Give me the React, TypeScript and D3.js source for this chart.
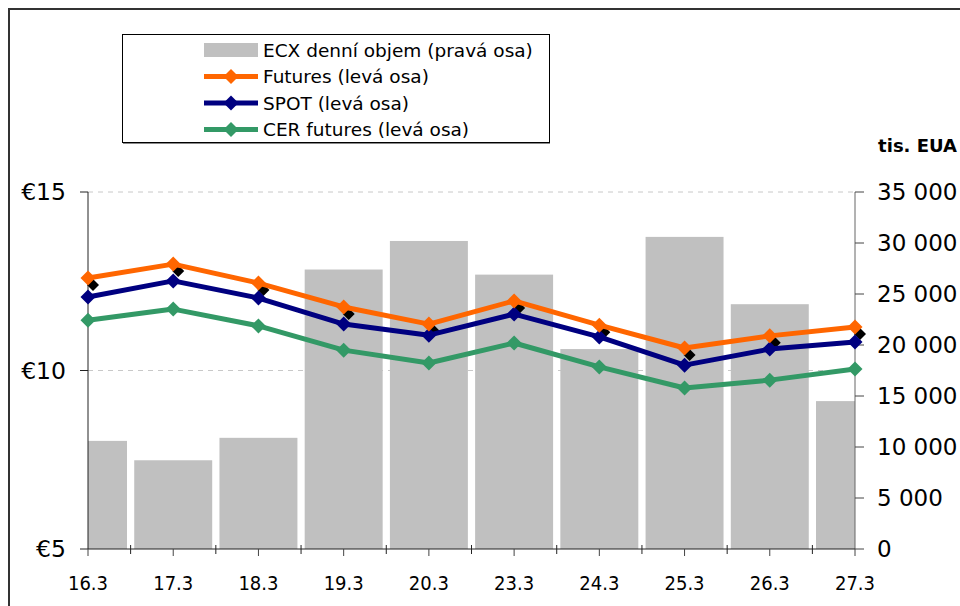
import React from "react";
import * as d3 from "d3";

const categories = ["16.3", "17.3", "18.3", "19.3", "20.3", "23.3", "24.3", "25.3", "26.3", "27.3"];
const volume = [10600, 8700, 10900, 27400, 30200, 26900, 19600, 30600, 24000, 14500];
const futures = [12.59, 12.98, 12.45, 11.78, 11.3, 11.95, 11.27, 10.63, 10.97, 11.22];
const spot = [12.06, 12.51, 12.03, 11.3, 10.99, 11.58, 10.94, 10.15, 10.6, 10.8];
const cer = [11.41, 11.72, 11.25, 10.57, 10.21, 10.77, 10.1, 9.51, 9.73, 10.04];
const leftTicks = [5, 10, 15];
const rightTicks = [0, 5000, 10000, 15000, 20000, 25000, 30000, 35000];

const legendItems = [
  { label: "ECX denní objem (pravá osa)", type: "bar", color: "#c0c0c0" },
  { label: "Futures (levá osa)", type: "line", color: "#ff6600" },
  { label: "SPOT (levá osa)", type: "line", color: "#000080" },
  { label: "CER futures (levá osa)", type: "line", color: "#339966" },
];

const W = 960, H = 606;
const plot = { left: 88, right: 855, top: 192, bottom: 549 };
const FONT = "'DejaVu Sans', Verdana, sans-serif";
const FONT_C = "'DejaVu Sans Condensed', 'DejaVu Sans', sans-serif";

export default function App() {
  const x = d3.scalePoint<string>().domain(categories).range([plot.left, plot.right]);
  const step = x.step();
  const yL = d3.scaleLinear().domain([5, 15]).range([plot.bottom, plot.top]);
  const yR = d3.scaleLinear().domain([0, 35000]).range([plot.bottom, plot.top]);
  const barW = step * 0.915;

  const line = (vals: number[]) =>
    d3.line<number>().x((_, i) => x(categories[i])!).y((v) => yL(v))(vals) || "";

  const diamond = (cx: number, cy: number, r: number) =>
    `M${cx},${cy - r}L${cx + r},${cy}L${cx},${cy + r}L${cx - r},${cy}Z`;

  const series = [
    { vals: cer, color: "#339966" },
    { vals: spot, color: "#000080" },
    { vals: futures, color: "#ff6600" },
  ];

  const midTicks = categories.slice(1).map((c, i) => (x(categories[i])! + x(c)!) / 2);

  return (
    <svg width={W} height={H} style={{ position: "absolute", left: 0, top: 0, background: "#fff" }}
      fontFamily={FONT}>
      <rect x={0} y={0} width={W} height={H} fill="#fff" />
      <rect x={9} y={9} width={1200} height={900} fill="none" stroke="#333" strokeWidth={2} />
      <defs>
        <clipPath id="plotclip">
          <rect x={plot.left} y={0} width={plot.right - plot.left} height={H} />
        </clipPath>
      </defs>
      {/* grid */}
      {leftTicks.filter((t) => t > 5).map((t) => (
        <line key={"g" + t} x1={plot.left} x2={plot.right} y1={yL(t)} y2={yL(t)}
          stroke="#c8c8c8" strokeWidth={1} strokeDasharray="5,5" />
      ))}
      {/* bars */}
      <g clipPath="url(#plotclip)">
        {volume.map((v, i) => (
          <rect key={"b" + i} x={x(categories[i])! - barW / 2} y={yR(v)} width={barW}
            height={plot.bottom - yR(v)} fill="#c0c0c0" />
        ))}
      </g>
      {/* left axis */}
      <line x1={plot.left} x2={plot.left} y1={plot.top} y2={plot.bottom} stroke="#222" strokeWidth={1} />
      {leftTicks.map((t) => (
        <g key={"l" + t}>
          <line x1={plot.left - 8} x2={plot.left} y1={yL(t)} y2={yL(t)} stroke="#222" />
          <text x={66} y={yL(t)} dy="0.36em" textAnchor="end" fontSize={23.5} fill="#000">€{t}</text>
        </g>
      ))}
      {/* right axis */}
      <line x1={plot.right} x2={plot.right} y1={plot.top} y2={plot.bottom} stroke="#666" strokeWidth={1} />
      {rightTicks.map((t) => (
        <g key={"r" + t}>
          <line x1={plot.right} x2={plot.right + 9} y1={yR(t)} y2={yR(t)} stroke="#444" />
          <text x={877} y={yR(t)} dy="0.36em" fontSize={23} fill="#000">
            {t === 0 ? "0" : d3.format(",")(t).replace(/,/g, " ")}
          </text>
        </g>
      ))}
      <text x={957} y={152} textAnchor="end" fontSize={18} fontWeight="bold" fill="#000">tis. EUA</text>
      {/* bottom axis */}
      <line x1={plot.left} x2={plot.right} y1={plot.bottom} y2={plot.bottom} stroke="#222" />
      {categories.map((c) => (
        <g key={"x" + c}>
          <line x1={x(c)!} x2={x(c)!} y1={plot.bottom} y2={plot.bottom + 7} stroke="#444" />
          <text x={x(c)!} y={590} textAnchor="middle" fontSize={20} fontFamily={FONT_C} fill="#000">{c}</text>
        </g>
      ))}
      {midTicks.map((m, i) => (
        <line key={"m" + i} x1={m} x2={m} y1={plot.bottom - 4} y2={plot.bottom + 5} stroke="#222" />
      ))}
      {/* shadow markers */}
      {futures.map((v, i) => (
        <path key={"s" + i} d={diamond(x(categories[i])! + 5, yL(v) + 7, 6)} fill="#000" />
      ))}
      {/* lines */}
      {series.map((s, si) => (
        <g key={"ser" + si}>
          <path d={line(s.vals)} fill="none" stroke={s.color} strokeWidth={5} strokeLinejoin="round" />
          {s.vals.map((v, i) => (
            <path key={i} d={diamond(x(categories[i])!, yL(v), 7.5)} fill={s.color} />
          ))}
        </g>
      ))}
      {/* legend */}
      <rect x={122.5} y={34.5} width={427} height={108} fill="#fff" stroke="#000" strokeWidth={1} />
      <line x1={123} x2={550} y1={143.5} y2={143.5} stroke="#888" strokeWidth={1} />
      {legendItems.map((it, i) => {
        const cy = 50 + i * 26.5;
        return (
          <g key={"lg" + i}>
            {it.type === "bar" ? (
              <rect x={204} y={cy - 7} width={54} height={14} fill={it.color} />
            ) : (
              <g>
                <line x1={204} x2={258} y1={cy} y2={cy} stroke={it.color} strokeWidth={5} />
                <path d={diamond(231, cy, 7.5)} fill={it.color} />
              </g>
            )}
            <text x={263} y={cy} dy="0.36em" fontSize={18.5} fill="#000">{it.label}</text>
          </g>
        );
      })}
    </svg>
  );
}
